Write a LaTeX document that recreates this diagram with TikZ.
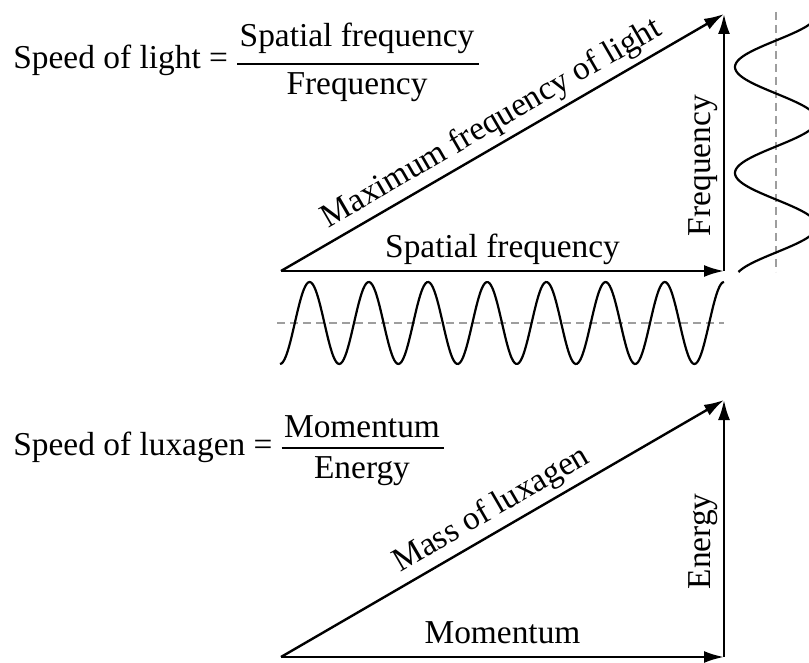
\documentclass[tikz,border=0pt]{standalone}
\usepackage{fontspec}
\setmainfont{Liberation Serif}
\usepackage{tikz}
\usetikzlibrary{arrows.meta, positioning}
\definecolor{dashgray}{HTML}{9E9E9E}

\begin{document}
\begin{tikzpicture}[
    x=0.5pt, y=-0.5pt,
    vec/.style={line width=1.2pt, -{Latex[length=10pt, width=6pt]}},
    lbl/.style={font=\fontsize{16.7}{20}\selectfont, inner sep=0pt},
    side/.style={lbl, text depth=0pt, inner sep=6pt, sloped, above},
    wave/.style={line width=1.1pt},
    axisline/.style={line width=0.7pt, draw=dashgray, dash pattern=on 4pt off 2.5pt},
    fracbar/.style={line width=1pt, shorten <=-1pt, shorten >=-2pt}
  ]
  \useasboundingbox (0,0) rectangle (809,663);
  \clip (0,0) rectangle (809,663);

  % light
  \node[lbl, anchor=base west] (sol) at (13,69) {Speed of light =};
  \coordinate (bar1) at (357,64);
  \node[lbl, above=5pt of bar1] (num1) {Spatial frequency};
  \node[lbl, below=4pt of bar1] (den1) {Frequency};
  \draw[fracbar] (num1.west |- bar1) -- (num1.east |- bar1);

  \coordinate (o1) at (281,271);
  \coordinate (c1) at (724,271);
  \coordinate (t1) at (724,14);
  \draw[vec] (o1) -- node[side] (sf) {Spatial frequency} (c1);
  \draw[vec] (c1) -- node[side, pos=0.41] (fr) {Frequency} (t1);
  \draw[vec] (o1) -- node[side] (mf) {Maximum frequency of light} (t1);

  \draw[axisline] (277,323) -- (724,323);
  \draw[wave] plot[domain=280:724, samples=300, smooth]
    (\x, {323+41*cos(360/59.2*(\x-280))});
  \draw[axisline] (776,12) -- (776,272);
  \draw[wave] plot[domain=8:272, samples=200, smooth, variable=\t]
    ({776-41*cos(360/106*(\t-67))}, \t);

  % luxagen
  \node[lbl, anchor=base west] (sox) at (13,455) {Speed of luxagen =};
  \coordinate (bar2) at (362,448);
  \node[lbl, above=5pt of bar2] (num2) {Momentum};
  \node[lbl, below=4pt of bar2] (den2) {Energy};
  \draw[fracbar] (num2.west |- bar2) -- (num2.east |- bar2);

  \coordinate (o2) at (281,657);
  \coordinate (c2) at (724,657);
  \coordinate (t2) at (724,400);
  \draw[vec] (o2) -- node[side] (mo) {Momentum} (c2);
  \draw[vec] (c2) -- node[side, pos=0.45] (en) {Energy} (t2);
  \draw[vec] (o2) -- node[side] (ml) {Mass of luxagen} (t2);
\end{tikzpicture}
\end{document}
